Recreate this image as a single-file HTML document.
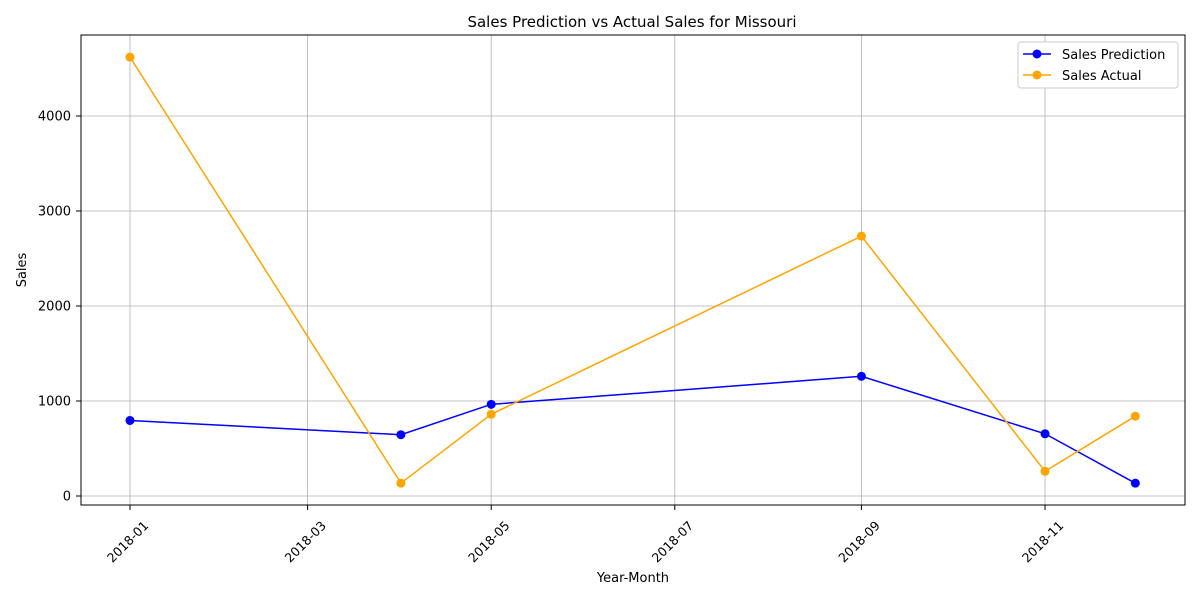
<!DOCTYPE html>
<html><head><meta charset="utf-8"><style>
body{margin:0;background:#fff;font-family:"Liberation Sans","DejaVu Sans",sans-serif;}
svg text{font-family:"DejaVu Sans","Liberation Sans",sans-serif;}
</style></head><body>
<svg id="chart" width="1200" height="600" xmlns="http://www.w3.org/2000/svg">
<rect width="1200" height="600" fill="#fff"/>
<text x="632" y="27" text-anchor="middle" font-size="15">Sales Prediction vs Actual Sales for Missouri</text>
<g id="grid"></g>
<g id="marks"></g>
<rect x="81" y="35" width="1104" height="470" fill="none" stroke="#000" stroke-width="1"/>
<g id="ticks"></g>
<text x="633" y="582" text-anchor="middle" font-size="13">Year-Month</text>
<text transform="translate(26,270) rotate(-90)" text-anchor="middle" font-size="13">Sales</text>
<g>
<rect x="1018" y="42" width="160" height="46" rx="3" fill="#fff" stroke="#ccc"/>
<line x1="1023" y1="54" x2="1051" y2="54" stroke="blue" stroke-width="1.5"/><circle cx="1037" cy="54" r="4.5" fill="blue"/>
<text x="1062" y="59" font-size="13">Sales Prediction</text>
<line x1="1023" y1="75" x2="1051" y2="75" stroke="orange" stroke-width="1.5"/><circle cx="1037" cy="75" r="4.5" fill="orange"/>
<text x="1062" y="80" font-size="13">Sales Actual</text>
</g>
</svg>
<script>
const dates = ["2018-01-01","2018-04-01","2018-05-01","2018-09-01","2018-11-01","2018-12-01"];
const prediction = [795, 645, 965, 1260, 655, 135];
const actual = [4620, 135, 860, 2735, 260, 840];
const yTicks = [0, 1000, 2000, 3000, 4000];
const xTicks = ["2018-01","2018-03","2018-05","2018-07","2018-09","2018-11"];

const NS = "http://www.w3.org/2000/svg";
const t0 = Date.UTC(2018,0,1);
function dayOf(s){const p=s.split("-");return (Date.UTC(+p[0],+p[1]-1,+(p[2]||1))-t0)/86400000;}
function X(s){return 130 + dayOf(s)*3.01;}
function Y(v){return 496 - v*0.095;}
function mk(tag, attrs, parent){const e=document.createElementNS(NS,tag);for(const k in attrs)e.setAttribute(k,attrs[k]);parent.appendChild(e);return e;}
const grid=document.getElementById("grid"), ticks=document.getElementById("ticks"), marks=document.getElementById("marks");
yTicks.forEach(v=>{
  const y=Y(v);
  const g=mk("line",{x1:81,x2:1185,y1:y,y2:y,stroke:"#b0b0b0","stroke-width":0.8},grid);
  
  
  mk("line",{x1:76,x2:81,y1:y,y2:y,stroke:"#000"},ticks);
  const t=mk("text",{x:71,y:y+4.5,"text-anchor":"end","font-size":13},ticks);
  t.textContent=v;
  
  
});
xTicks.forEach(s=>{
  const x=X(s);
  const g=mk("line",{x1:x,x2:x,y1:35,y2:505,stroke:"#b0b0b0","stroke-width":0.8},grid);
  
  
  mk("line",{x1:x,x2:x,y1:505,y2:510,stroke:"#000"},ticks);
  const cx=x-2, cy=542;
  const t=mk("text",{x:cx,y:cy+4,"text-anchor":"middle","font-size":12.5,transform:`rotate(-45 ${cx} ${cy})`},ticks);
  t.textContent=s;
  
  
});
function series(vals,color,name){
  const pts=vals.map((v,i)=>X(dates[i])+","+Y(v)).join(" ");
  const pl=mk("polyline",{points:pts,fill:"none",stroke:color,"stroke-width":1.5},marks);
  
  
  vals.forEach((v,i)=>{
    const c=mk("circle",{cx:X(dates[i]),cy:Y(v),r:4.5,fill:color},marks);
    
    
  });
}
series(prediction,"blue","prediction");
series(actual,"orange","actual");
</script>
</body></html>
